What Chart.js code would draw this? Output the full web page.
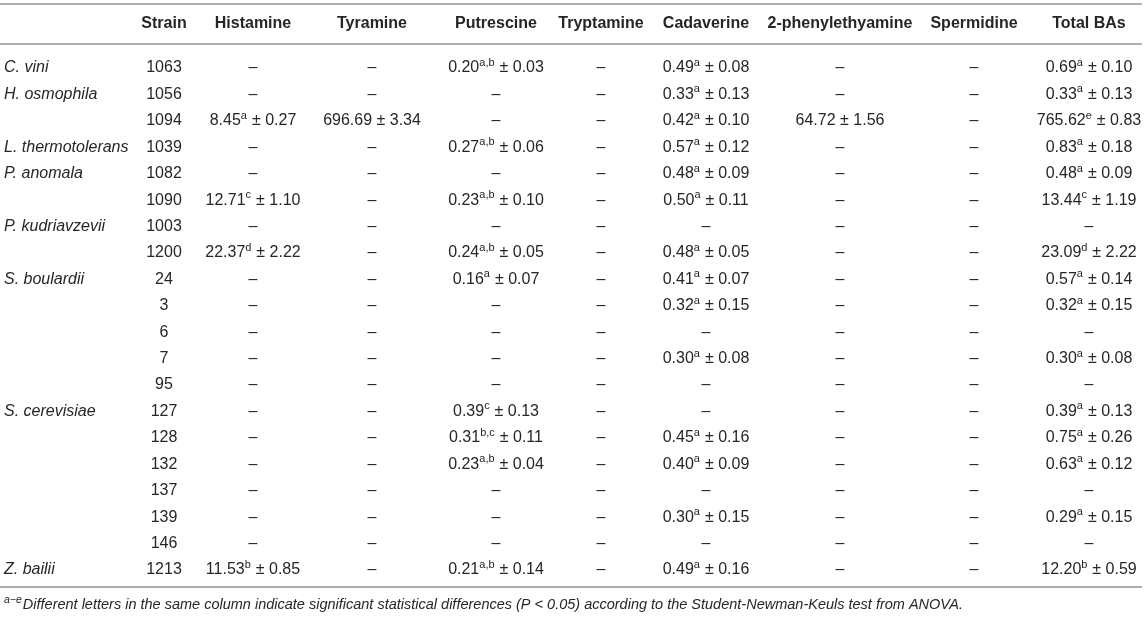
<!DOCTYPE html>
<html>
<head>
<meta charset="utf-8">
<script src="https://cdn.jsdelivr.net/npm/chart.js@4.4.1/dist/chart.umd.min.js"></script>
<style>
html,body{margin:0;padding:0;background:#fff;}
#wrap{width:1146px;height:620px;position:relative;}
</style>
</head>
<body>
<div id="wrap"><canvas id="c"></canvas></div>
<script>
// ---------- DATA ----------
const headers = ["", "Strain", "Histamine", "Tyramine", "Putrescine", "Tryptamine", "Cadaverine", "2-phenylethyamine", "Spermidine", "Total BAs"];
const species = ["C. vini", "H. osmophila", "", "L. thermotolerans", "P. anomala", "", "P. kudriavzevii", "", "S. boulardii", "", "", "", "", "S. cerevisiae", "", "", "", "", "", "Z. bailii"];
const strains = ["1063", "1056", "1094", "1039", "1082", "1090", "1003", "1200", "24", "3", "6", "7", "95", "127", "128", "132", "137", "139", "146", "1213"];
// each value: [mean, significance letters, SD] or null for "–"
const histamine = [null, null, [8.45, "a", 0.27], null, null, [12.71, "c", 1.10], null, [22.37, "d", 2.22], null, null, null, null, null, null, null, null, null, null, null, [11.53, "b", 0.85]];
const tyramine = [null, null, [696.69, "", 3.34], null, null, null, null, null, null, null, null, null, null, null, null, null, null, null, null, null];
const putrescine = [[0.20, "a,b", 0.03], null, null, [0.27, "a,b", 0.06], null, [0.23, "a,b", 0.10], null, [0.24, "a,b", 0.05], [0.16, "a", 0.07], null, null, null, null, [0.39, "c", 0.13], [0.31, "b,c", 0.11], [0.23, "a,b", 0.04], null, null, null, [0.21, "a,b", 0.14]];
const tryptamine = [null, null, null, null, null, null, null, null, null, null, null, null, null, null, null, null, null, null, null, null];
const cadaverine = [[0.49, "a", 0.08], [0.33, "a", 0.13], [0.42, "a", 0.10], [0.57, "a", 0.12], [0.48, "a", 0.09], [0.50, "a", 0.11], null, [0.48, "a", 0.05], [0.41, "a", 0.07], [0.32, "a", 0.15], null, [0.30, "a", 0.08], null, null, [0.45, "a", 0.16], [0.40, "a", 0.09], null, [0.30, "a", 0.15], null, [0.49, "a", 0.16]];
const phenylethylamine = [null, null, [64.72, "", 1.56], null, null, null, null, null, null, null, null, null, null, null, null, null, null, null, null, null];
const spermidine = [null, null, null, null, null, null, null, null, null, null, null, null, null, null, null, null, null, null, null, null];
const totalBAs = [[0.69, "a", 0.10], [0.33, "a", 0.13], [765.62, "e", 0.83], [0.83, "a", 0.18], [0.48, "a", 0.09], [13.44, "c", 1.19], null, [23.09, "d", 2.22], [0.57, "a", 0.14], [0.32, "a", 0.15], null, [0.30, "a", 0.08], null, [0.39, "a", 0.13], [0.75, "a", 0.26], [0.63, "a", 0.12], null, [0.29, "a", 0.15], null, [12.20, "b", 0.59]];
const footnoteSup = "a\u2212e";
const footnote = "Different letters in the same column indicate significant statistical differences (P < 0.05) according to the Student-Newman-Keuls test from ANOVA.";

// ---------- LAYOUT / STYLE ----------
const colWidths = [137, 54, 124, 114, 134, 76, 134, 134, 134, 96];
const tableWidth = 1142;
const rowStep = 26.42;
const yMin = -68 / rowStep, yMax = yMin + 620 / rowStep;
const rows = { topRule: -2.423, header: -1.68, headRule: -0.909, bottomRule: 19.64, footnote: 20.33 };
const FONT = '"Liberation Sans", Arimo, Helvetica, Arial, sans-serif';
const TXT = '#262626';
const RULE = '#adadad';

const colCenters = [];
const colLefts = [];
{ let acc = 0; colWidths.forEach(w => { colLefts.push(acc); colCenters.push(acc + w / 2); acc += w; }); }

const valueCols = [strains, histamine, tyramine, putrescine, tryptamine, cadaverine, phenylethylamine, spermidine, totalBAs];

const datasets = [{ label: 'species', col: 0, cells: species, data: species.map((s, i) => ({ x: colLefts[0], y: i })) }]
  .concat(valueCols.map((arr, k) => ({ label: headers[k + 1], col: k + 1, cells: arr, data: arr.map((v, i) => ({ x: colCenters[k + 1], y: i })) })));

function drawValue(ctx, v, x, y) {
  const big = '16px ' + FONT, small = '11px ' + FONT;
  if (v === null) { ctx.font = big; ctx.textAlign = 'center'; ctx.fillText('\u2013', x, y); return; }
  if (typeof v === 'string') { ctx.font = big; ctx.textAlign = 'center'; ctx.fillText(v, x, y); return; }
  const m = v[0].toFixed(2), sig = v[1], sd = ' \u00b1 ' + v[2].toFixed(2);
  ctx.font = big; const w1 = ctx.measureText(m).width; const w3 = ctx.measureText(sd).width;
  ctx.font = small; const w2 = sig ? ctx.measureText(sig).width + 0.5 : 0;
  let sx = x - (w1 + w2 + w3) / 2;
  ctx.textAlign = 'left';
  ctx.font = big; ctx.fillText(m, sx, y); sx += w1;
  if (sig) { ctx.font = small; ctx.fillText(sig, sx, y - 5); sx += w2; }
  ctx.font = big; ctx.fillText(sd, sx, y);
}

const tablePlugin = {
  id: 'tablePlugin',
  afterDatasetsDraw(chart) {
    const ctx = chart.ctx, xs = chart.scales.x, ys = chart.scales.y;
    ctx.save();
    // rules
    ctx.strokeStyle = RULE; ctx.lineWidth = 2;
    [rows.topRule, rows.headRule, rows.bottomRule].forEach(r => {
      const py = ys.getPixelForValue(r);
      ctx.beginPath(); ctx.moveTo(xs.getPixelForValue(0), py); ctx.lineTo(xs.getPixelForValue(tableWidth), py); ctx.stroke();
    });
    ctx.fillStyle = TXT; ctx.textBaseline = 'middle';
    // header
    const hy = ys.getPixelForValue(rows.header);
    ctx.font = 'bold 16px ' + FONT; ctx.textAlign = 'center';
    headers.forEach((h, k) => { if (h) ctx.fillText(h, xs.getPixelForValue(colCenters[k]), hy); });
    // cells
    chart.data.datasets.forEach((ds, di) => {
      const meta = chart.getDatasetMeta(di);
      meta.data.forEach((el, i) => {
        const v = ds.cells[i];
        if (ds.col === 0) {
          if (v) { ctx.font = 'italic 16px ' + FONT; ctx.textAlign = 'left'; ctx.fillText(v, el.x + 4, el.y); }
        } else {
          drawValue(ctx, v, el.x, el.y);
        }
      });
    });
    // footnote
    const fy = ys.getPixelForValue(rows.footnote);
    ctx.textAlign = 'left';
    ctx.font = 'italic 10.5px ' + FONT; ctx.fillText(footnoteSup, 4, fy - 5);
    const sw = ctx.measureText(footnoteSup).width;
    ctx.font = 'italic 14.5px ' + FONT; ctx.fillText(footnote, 4 + sw + 1, fy);
    ctx.restore();
  }
};

new Chart(document.getElementById('c'), {
  type: 'scatter',
  data: { datasets },
  options: {
    responsive: true, maintainAspectRatio: false, animation: false,
    devicePixelRatio: 1,
    layout: { padding: 0 },
    elements: { point: { radius: 0, hoverRadius: 0 } },
    plugins: { legend: { display: false }, tooltip: { enabled: false } },
    events: [],
    scales: {
      x: { type: 'linear', display: false, min: 0, max: 1146 },
      y: { type: 'linear', display: false, reverse: true, min: yMin, max: yMax }
    }
  },
  plugins: [tablePlugin]
});
</script>
</body>
</html>
